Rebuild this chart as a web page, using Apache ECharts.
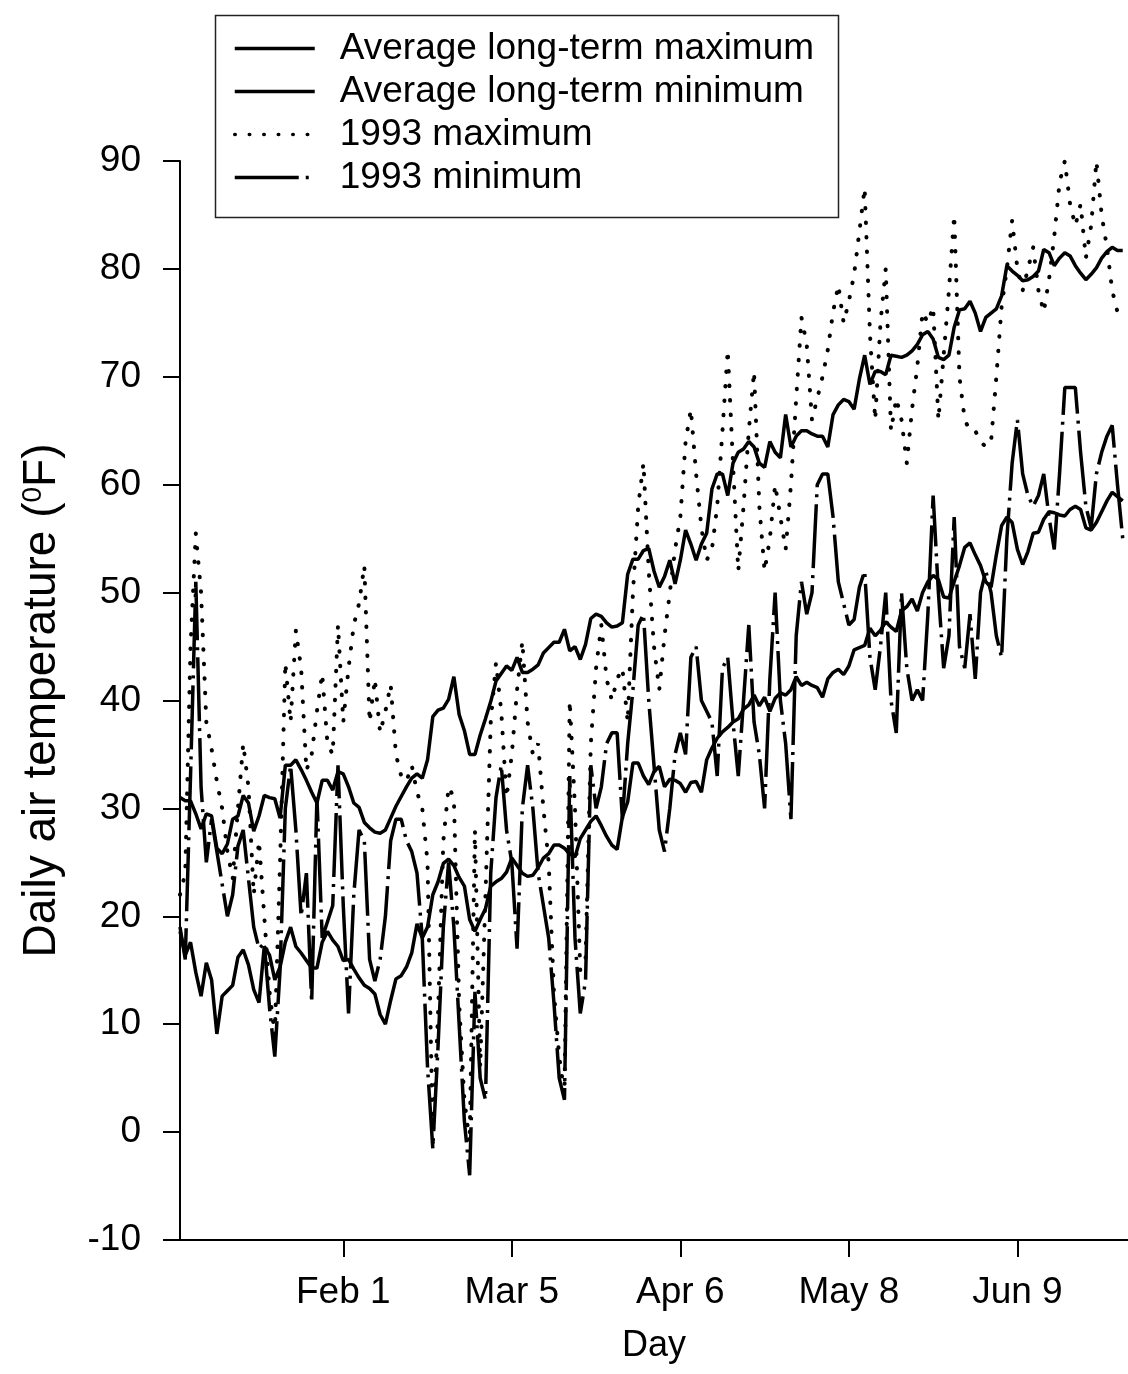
<!DOCTYPE html>
<html>
<head>
<meta charset="utf-8">
<script src="https://cdn.jsdelivr.net/npm/echarts@6.0.0/dist/echarts.min.js"></script>
<style>
  html, body { margin: 0; padding: 0; background: #fff; }
  #chart { width: 1128px; height: 1374px; }
</style>
</head>
<body>
<div id="chart"></div>
<script>
// ---------- data (day of year 1..180, values in degrees F) ----------
const days = Array.from({ length: 180 }, (_, i) => i + 1);

const tickDays = [32, 64, 96, 128, 160];
const tickLabels = ['Feb 1', 'Mar 5', 'Apr 6', 'May 8', 'Jun 9'];

const seriesNames = ['Average long-term maximum', 'Average long-term minimum', '1993 maximum', '1993 minimum'];

const avgMax = [
  31, 30.7, 30.7, 29.5, 28.1, 29.5, 29.3, 26.3, 25.8, 26.7,
  29, 29.3, 31.2, 30.5, 27.9, 29.3, 31.2, 31, 30.9, 29.1,
  34, 34, 34.5, 33.6, 32.6, 31.5, 30.5, 32.6, 32.6, 31.7,
  33.4, 33.2, 32, 30.5, 30.1, 28.7, 28.2, 27.8, 27.7, 28,
  29.1, 30.2, 31.1, 32, 32.8, 33.2, 32.8, 34.5, 38.5, 39.1,
  39.3, 40.1, 42.2, 38.7, 37.2, 35, 35, 36.8, 38.3, 39.9,
  41.8, 42.5, 43.2, 42.8, 44, 42.6, 42.6, 42.9, 43.3, 44.4,
  44.9, 45.4, 45.4, 46.6, 44.6, 45, 43.8, 45.2, 47.6, 48,
  47.8, 47.2, 46.8, 46.9, 47.2, 51.7, 53.1, 53.1, 53.9, 54.1,
  52, 50.5, 51.5, 53, 50.8, 53, 55.8, 54.5, 53, 54.5,
  55.5, 59.6, 61, 61, 59, 62, 63, 63.3, 64, 63.5,
  62, 61.6, 64, 63, 62.5, 66.5, 63.5, 64.5, 65, 65,
  64.7, 64.5, 64.5, 63.5, 66.5, 67.4, 67.9, 67.7, 67, 69.8,
  72, 69.3, 70.5, 70.5, 70.2, 72, 71.9, 71.8, 72, 72.4,
  73, 73.9, 74.2, 73.5, 71.8, 71.6, 72, 74.6, 76.2, 76.3,
  77, 75.9, 74.2, 75.5, 75.9, 76.3, 77.5, 80.3, 79.8, 79.4,
  78.9, 79, 79.3, 79.8, 81.8, 81.5, 80.3, 81, 81.5, 81.2,
  80.3, 79.6, 79, 79.5, 80.1, 81, 81.6, 82, 81.7, 81.7
];

const avgMin = [
  18.6, 16.4, 17.6, 14.8, 12.6, 15.7, 14.1, 9.1, 12.6, 13.1,
  13.6, 16.2, 16.9, 15.5, 13.2, 12, 17.2, 16.4, 14.1, 15.3,
  17.6, 19, 17.2, 16.6, 15.9, 15.2, 15.2, 17.6, 18.6, 17.8,
  17.2, 15.9, 16, 15.1, 14.3, 13.6, 13.3, 12.8, 10.9, 10,
  12.2, 14.2, 14.5, 15.3, 16.6, 19.3, 18, 19, 22, 23.2,
  24.9, 25.3, 24.7, 23.6, 22.8, 19.7, 18.6, 19.7, 20.7, 22.8,
  23.2, 23.5, 24.1, 25.4, 24.7, 24, 23.7, 23.8, 24.5, 25.4,
  25.8, 26.6, 26.6, 26.3, 25.8, 25.5, 27.2, 28, 28.8, 29.3,
  28.4, 27.4, 26.6, 26.2, 29.2, 30.6, 34.2, 34.2, 33, 32.2,
  33.4, 33.9, 32, 32.7, 32.6, 32.3, 31.5, 32.4, 32.5, 31.5,
  34.5, 35.6, 36.5, 37.1, 37.5, 38, 38.3, 39.2, 39.6, 40.5,
  39.5, 40.3, 39, 40.2, 40.7, 40.5, 41, 42.2, 41.4, 41.7,
  41.4, 41.2, 40.3, 42, 42.6, 42.9, 42.4, 43.2, 44.7, 44.9,
  45.1, 46.7, 46, 46.5, 47.3, 46.8, 46.4, 48.3, 48.7, 49.4,
  48.3, 50, 51, 51.6, 51.2, 49.6, 49.5, 51, 52.5, 54.2,
  54.6, 53.5, 52.5, 51, 50.5, 53.5, 56.2, 57, 56.5, 54,
  52.6, 53.8, 55.5, 55.6, 56.8, 57.5, 57.4, 57.2, 57.1, 57.7,
  58, 57.7, 56, 55.8, 56.5, 57.5, 58.5, 59.3, 58.9, 58.5
];

const max1993 = [
  22, 24, 45, 55.5, 50, 38, 35.5, 32.5, 30, 26,
  23.5, 30, 36, 32, 22, 27, 20, 13, 9, 25,
  43.5, 38, 46.5, 43, 33.5, 35, 39, 42.5, 36, 35,
  47, 38, 43, 47, 49, 52.5, 38, 42, 37, 39,
  41.5, 35, 33, 32.5, 34, 31.5, 30, 25, -1, 11,
  27, 32, 31, 12, 3, -1, 28, 6, 22, 38,
  43.5, 39, 31, 35, 41, 45.5, 38, 35, 36, 30,
  25, 13, 7, 3.5, 40, 30, 15, 16, 36, 43,
  47, 42, 40, 42, 43, 38, 50, 58, 62, 52,
  45, 41, 46, 50, 54, 57, 64, 67, 61, 56,
  53, 54, 58, 65, 72.5, 62, 52, 58, 65, 70.5,
  58, 52, 55, 60, 57, 54, 60, 68, 75.5, 73,
  66, 68, 70, 72.5, 76, 78.5, 75, 77, 79.5, 83.5,
  87.5, 74, 66, 75, 80, 65, 68, 66, 62, 67,
  71, 76, 75, 76.5, 66, 72, 78, 85, 70, 66,
  65, 65, 64, 63.5, 64, 70, 76.5, 80, 84.5, 80,
  78, 80, 82, 78, 76, 79, 83, 88, 90, 86,
  84, 86, 81, 84, 90, 85, 82, 78, 76, 76
];

const min1993 = [
  19, 16, 33, 51, 32, 25, 29, 26, 23, 20,
  22, 26.5, 28, 23.5, 19, 17, 17.5, 11.5, 7, 15,
  30, 34, 28, 20, 24, 12, 31, 18, 19.5, 21,
  34, 21, 11, 22, 28, 27, 16, 14, 16, 20,
  27, 29, 29, 27, 26, 24, 18, 6, -1.5, 8,
  19, 25, 19, 10, 1, -4, 13, 5, 3, 24,
  31, 34, 28, 25, 17, 30, 34, 30, 24, 21,
  18, 12, 5, 3, 33, 18, 11, 14, 34, 30,
  32, 36, 37, 37, 29, 36, 41, 47, 48, 40,
  34, 28, 26, 30, 35, 37, 35, 44, 45, 40,
  39, 38, 33, 43, 44, 38, 33, 40, 47, 38,
  35, 30, 42, 50, 40, 36, 29, 46, 51, 48,
  50, 60, 61, 61, 57, 51, 49, 47, 47.5, 50.5,
  52, 44, 41, 45, 50, 40, 37, 50, 43, 40,
  41, 40, 48, 59, 50, 43, 46, 57, 45, 43,
  48, 42, 50, 52, 50, 46, 44, 55, 62, 66,
  61, 59, 58, 59, 61, 57, 54, 61, 69, 69,
  69, 63, 58, 56, 61, 63, 64.5, 65.5, 60, 55
];

// ---------- chart ----------
const FONT = "'Liberation Sans', Arial, Helvetica, sans-serif";
const pairs = arr => days.map((d, i) => [d, arr[i]]);

const chart = echarts.init(document.getElementById('chart'), null, { renderer: 'canvas' });

const lineStyles = [
  { color: '#000', width: 3.5, type: 'solid' },
  { color: '#000', width: 3.5, type: 'solid' },
  { color: '#000', width: 4, type: [0.5, 14], cap: 'round' },
  { color: '#000', width: 3.5, type: [64, 7, 3, 7], cap: 'butt' }
];
const seriesData = [avgMax, avgMin, max1993, min1993];

chart.setOption({
  animation: false,
  backgroundColor: '#fff',
  textStyle: { fontFamily: FONT },
  grid: { left: 180, top: 161, width: 956.25, height: 1079 },
  legend: {
    left: 233, top: 30, orient: 'vertical',
    itemWidth: 80, itemHeight: 20, itemGap: 6, padding: 0,
    selectedMode: false,
    data: seriesNames,
    itemStyle: { opacity: 0, borderWidth: 0 },
    lineStyle: { width: 3.5 },
    textStyle: { fontSize: 37, fontFamily: FONT, color: '#000', lineHeight: 36, padding: [0, 0, 0, 20] }
  },
  graphic: [{
    type: 'rect', left: 213, top: 13, z: 10,
    shape: { width: 623, height: 202 },
    style: { fill: 'none', stroke: '#222', lineWidth: 1.5 }
  }],
  xAxis: {
    type: 'value', min: 1, max: 181,
    name: 'Day', nameLocation: 'middle', nameGap: 88,
    nameTextStyle: { fontSize: 36, color: '#000', fontFamily: FONT },
    axisLine: { onZero: false, lineStyle: { color: '#000', width: 2 } },
    axisTick: { show: true, inside: false, length: 17, lineStyle: { color: '#000', width: 2 }, customValues: tickDays },
    axisLabel: {
      customValues: tickDays, margin: 34, fontSize: 37, color: '#000', fontFamily: FONT,
      formatter: v => tickLabels[tickDays.indexOf(v)] || ''
    },
    splitLine: { show: false }
  },
  yAxis: {
    type: 'value', min: -10, max: 90, interval: 10,
    name: 'Daily air temperature ({sup|0}F)', nameLocation: 'middle', nameGap: 115,
    nameTextStyle: {
      fontSize: 46, color: '#000', fontFamily: FONT,
      rich: { sup: { fontSize: 28, verticalAlign: 'top', color: '#000', fontFamily: FONT, padding: [0, 0, 14, 0] } }
    },
    axisLine: { show: true, onZero: false, lineStyle: { color: '#000', width: 2 } },
    axisTick: { show: true, inside: false, length: 17, lineStyle: { color: '#000', width: 2 } },
    axisLabel: { margin: 39, fontSize: 37, color: '#000', fontFamily: FONT },
    splitLine: { show: false }
  },
  series: seriesNames.map((name, k) => ({
    name, type: 'line', symbol: 'none', showSymbol: false,
    data: pairs(seriesData[k]),
    lineStyle: lineStyles[k],
    itemStyle: { color: '#000' },
    z: 3 - (k > 1 ? 0 : 1)
  }))
});
</script>
</body>
</html>
